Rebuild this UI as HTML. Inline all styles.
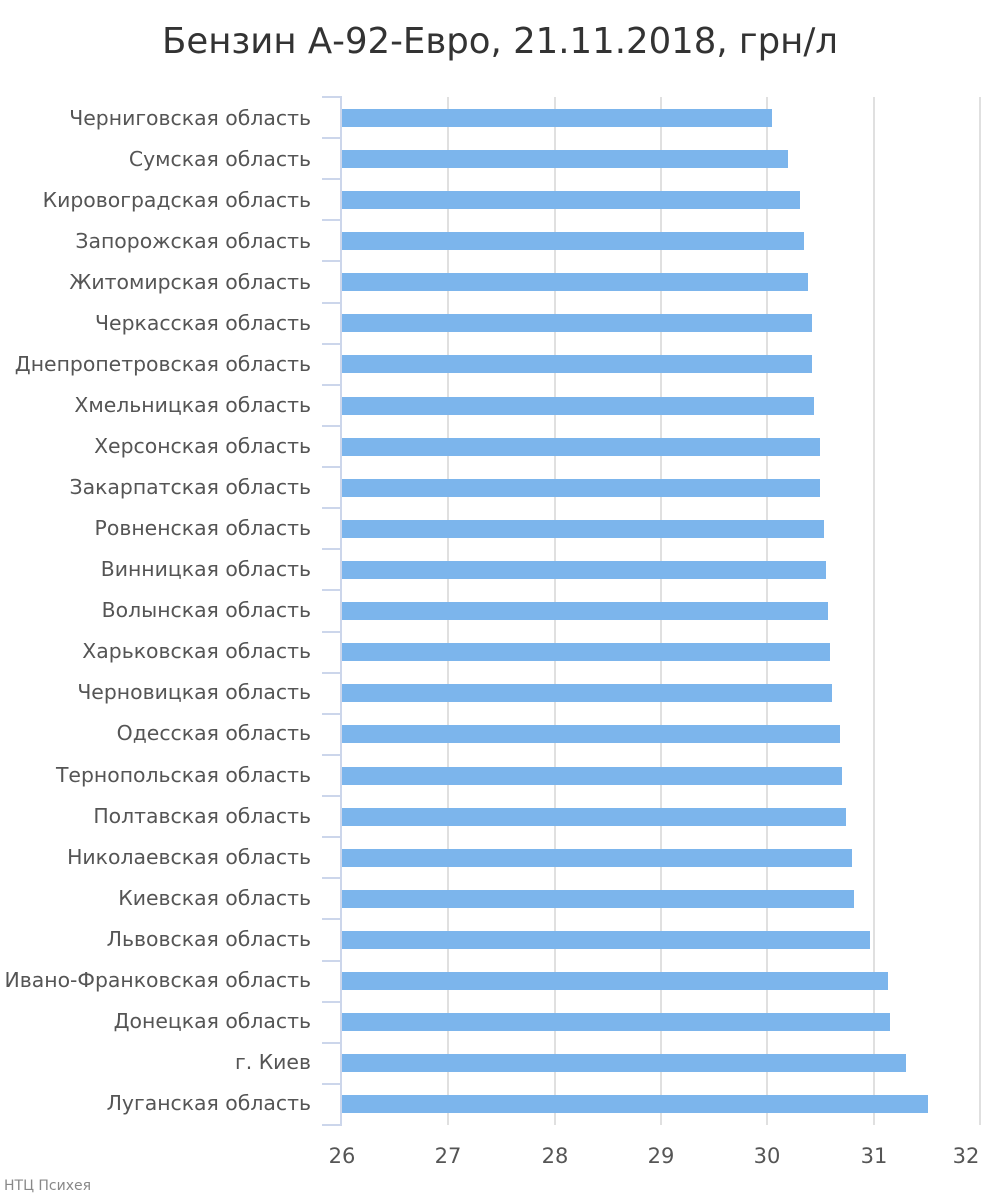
<!DOCTYPE html>
<html><head><meta charset="utf-8"><style>
html,body{margin:0;padding:0;background:#fff}
svg{display:block}
text{font-family:"DejaVu Sans","Liberation Sans",sans-serif}
</style></head><body>
<svg width="1000" height="1200" viewBox="0 0 1000 1200" xmlns="http://www.w3.org/2000/svg">
<text x="500" y="53" text-anchor="middle" font-size="35.5" fill="#333">Бензин А-92-Евро, 21.11.2018, грн/л</text>
<g stroke="#e0e0e0" stroke-width="2">
<line x1="448" y1="97" x2="448" y2="1125"/>
<line x1="555" y1="97" x2="555" y2="1125"/>
<line x1="661" y1="97" x2="661" y2="1125"/>
<line x1="767" y1="97" x2="767" y2="1125"/>
<line x1="874" y1="97" x2="874" y2="1125"/>
<line x1="980" y1="97" x2="980" y2="1125"/>
</g>
<g fill="#7cb5ec">
<rect x="342" y="109" width="430" height="18"/>
<rect x="342" y="150" width="446" height="18"/>
<rect x="342" y="191" width="458" height="18"/>
<rect x="342" y="232" width="462" height="18"/>
<rect x="342" y="273" width="466" height="18"/>
<rect x="342" y="314" width="470" height="18"/>
<rect x="342" y="355" width="470" height="18"/>
<rect x="342" y="397" width="472" height="18"/>
<rect x="342" y="438" width="478" height="18"/>
<rect x="342" y="479" width="478" height="18"/>
<rect x="342" y="520" width="482" height="18"/>
<rect x="342" y="561" width="484" height="18"/>
<rect x="342" y="602" width="486" height="18"/>
<rect x="342" y="643" width="488" height="18"/>
<rect x="342" y="684" width="490" height="18"/>
<rect x="342" y="725" width="498" height="18"/>
<rect x="342" y="767" width="500" height="18"/>
<rect x="342" y="808" width="504" height="18"/>
<rect x="342" y="849" width="510" height="18"/>
<rect x="342" y="890" width="512" height="18"/>
<rect x="342" y="931" width="528" height="18"/>
<rect x="342" y="972" width="546" height="18"/>
<rect x="342" y="1013" width="548" height="18"/>
<rect x="342" y="1054" width="564" height="18"/>
<rect x="342" y="1095" width="586" height="18"/>
</g>
<g stroke="#ccd6eb" stroke-width="2">
<line x1="341" y1="96" x2="341" y2="1126"/>
<line x1="322" y1="97" x2="341" y2="97"/>
<line x1="322" y1="138" x2="341" y2="138"/>
<line x1="322" y1="179" x2="341" y2="179"/>
<line x1="322" y1="220" x2="341" y2="220"/>
<line x1="322" y1="261" x2="341" y2="261"/>
<line x1="322" y1="303" x2="341" y2="303"/>
<line x1="322" y1="344" x2="341" y2="344"/>
<line x1="322" y1="385" x2="341" y2="385"/>
<line x1="322" y1="426" x2="341" y2="426"/>
<line x1="322" y1="467" x2="341" y2="467"/>
<line x1="322" y1="508" x2="341" y2="508"/>
<line x1="322" y1="549" x2="341" y2="549"/>
<line x1="322" y1="590" x2="341" y2="590"/>
<line x1="322" y1="632" x2="341" y2="632"/>
<line x1="322" y1="673" x2="341" y2="673"/>
<line x1="322" y1="714" x2="341" y2="714"/>
<line x1="322" y1="755" x2="341" y2="755"/>
<line x1="322" y1="796" x2="341" y2="796"/>
<line x1="322" y1="837" x2="341" y2="837"/>
<line x1="322" y1="878" x2="341" y2="878"/>
<line x1="322" y1="919" x2="341" y2="919"/>
<line x1="322" y1="961" x2="341" y2="961"/>
<line x1="322" y1="1002" x2="341" y2="1002"/>
<line x1="322" y1="1043" x2="341" y2="1043"/>
<line x1="322" y1="1084" x2="341" y2="1084"/>
<line x1="322" y1="1125" x2="341" y2="1125"/>
</g>
<g font-size="20.4" fill="#555" text-anchor="end">
<text x="311" y="125">Черниговская область</text>
<text x="311" y="166">Сумская область</text>
<text x="311" y="207">Кировоградская область</text>
<text x="311" y="248">Запорожская область</text>
<text x="311" y="289">Житомирская область</text>
<text x="311" y="330">Черкасская область</text>
<text x="311" y="371">Днепропетровская область</text>
<text x="311" y="412">Хмельницкая область</text>
<text x="311" y="453">Херсонская область</text>
<text x="311" y="494">Закарпатская область</text>
<text x="311" y="535">Ровненская область</text>
<text x="311" y="576">Винницкая область</text>
<text x="311" y="617">Волынская область</text>
<text x="311" y="658">Харьковская область</text>
<text x="311" y="699">Черновицкая область</text>
<text x="311" y="740">Одесская область</text>
<text x="311" y="782">Тернопольская область</text>
<text x="311" y="823">Полтавская область</text>
<text x="311" y="864">Николаевская область</text>
<text x="311" y="905">Киевская область</text>
<text x="311" y="946">Львовская область</text>
<text x="311" y="987">Ивано-Франковская область</text>
<text x="311" y="1028">Донецкая область</text>
<text x="311" y="1069">г. Киев</text>
<text x="311" y="1110">Луганская область</text>
</g>
<g font-size="21" fill="#555" text-anchor="middle">
<text x="342" y="1163">26</text>
<text x="448" y="1163">27</text>
<text x="555" y="1163">28</text>
<text x="661" y="1163">29</text>
<text x="767" y="1163">30</text>
<text x="874" y="1163">31</text>
<text x="966" y="1163">32</text>
</g>
<text x="4" y="1190" font-size="14" fill="#888">НТЦ Психея</text>
</svg>
</body></html>
